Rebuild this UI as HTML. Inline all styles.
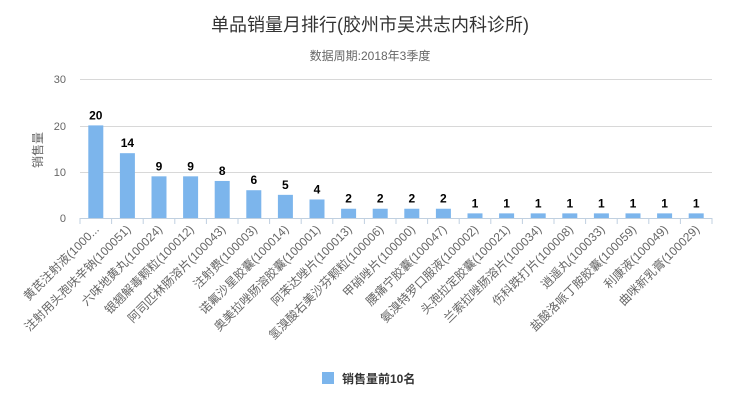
<!DOCTYPE html>
<html><head><meta charset="utf-8"><style>
body{margin:0;background:#fff;}
text{font-family:"Liberation Sans","Noto Sans CJK SC",sans-serif;}
</style></head><body>
<svg width="740" height="403" xmlns="http://www.w3.org/2000/svg" id="s">
<rect width="740" height="403" fill="#fff"/>
<text x="370" y="31" text-anchor="middle" font-size="18" fill="#333">单品销量月排行(胶州市吴洪志内科诊所)</text>
<text x="370" y="60" text-anchor="middle" font-size="12" fill="#666">数据周期:2018年3季度</text>
<g stroke="#d8d8d8" stroke-width="1">
<line x1="80" y1="79.5" x2="712" y2="79.5"/>
<line x1="80" y1="126.5" x2="712" y2="126.5"/>
<line x1="80" y1="172.5" x2="712" y2="172.5"/>
</g>
<g font-size="11" fill="#666" text-anchor="end">
<text x="66" y="83">30</text><text x="66" y="130">20</text><text x="66" y="176">10</text><text x="66" y="222">0</text>
</g>
<text transform="translate(42,150) rotate(-90)" font-size="12" fill="#666" text-anchor="middle">销售量</text>
<g id="bars"></g>
</svg>
<script>
var names=["黄芪注射液(1000...","注射用头孢呋辛钠(100051)","六味地黄丸(100024)","银翘解毒颗粒(100012)","阿司匹林肠溶片(100043)","注射费(100003)","诺氟沙星胶囊(100014)","奥美拉唑肠溶胶囊(100001)","阿苯达唑片(100013)","氢溴酸右美沙芬颗粒(100006)","甲硝唑片(100000)","腰痛宁胶囊(100047)","氨溴特罗口服液(100002)","头孢拉定胶囊(100021)","兰索拉唑肠溶片(100034)","伤科跌打片(100008)","逍遥丸(100033)","盐酸洛哌丁胺胶囊(100059)","利康液(100049)","曲咪新乳膏(100029)"];
var v=[20,14,9,9,8,6,5,4,2,2,2,2,1,1,1,1,1,1,1,1];
var s='',ns='http://www.w3.org/2000/svg',w=31.6;
s+='<line x1="80" y1="218.5" x2="712" y2="218.5" stroke="#c0d0e0"/>';
for(var i=0;i<=20;i++){var x=80+w*i;s+='<line x1="'+x+'" y1="218" x2="'+x+'" y2="224" stroke="#c0d0e0"/>';}
for(var i=0;i<20;i++){var cx=80+w*(i+.5);var h=v[i]*4.63;
s+='<rect x="'+(cx-7.5)+'" y="'+(218-h)+'" width="15" height="'+h+'" fill="#7cb5ec"/>';
s+='<text x="'+cx+'" y="'+(212-h)+'" text-anchor="middle" font-size="12" font-weight="bold" fill="#000">'+v[i]+'</text>';
s+='<text transform="translate('+(cx+4)+',230) rotate(-45)" text-anchor="end" font-size="12" fill="#666">'+names[i]+'</text>';}
s+='<rect x="322" y="372" width="12" height="12" fill="#7cb5ec"/><text x="342" y="383" font-size="12" font-weight="bold" fill="#333">销售量前10名</text>';
document.getElementById('bars').innerHTML=s;
</script>
</body></html>
